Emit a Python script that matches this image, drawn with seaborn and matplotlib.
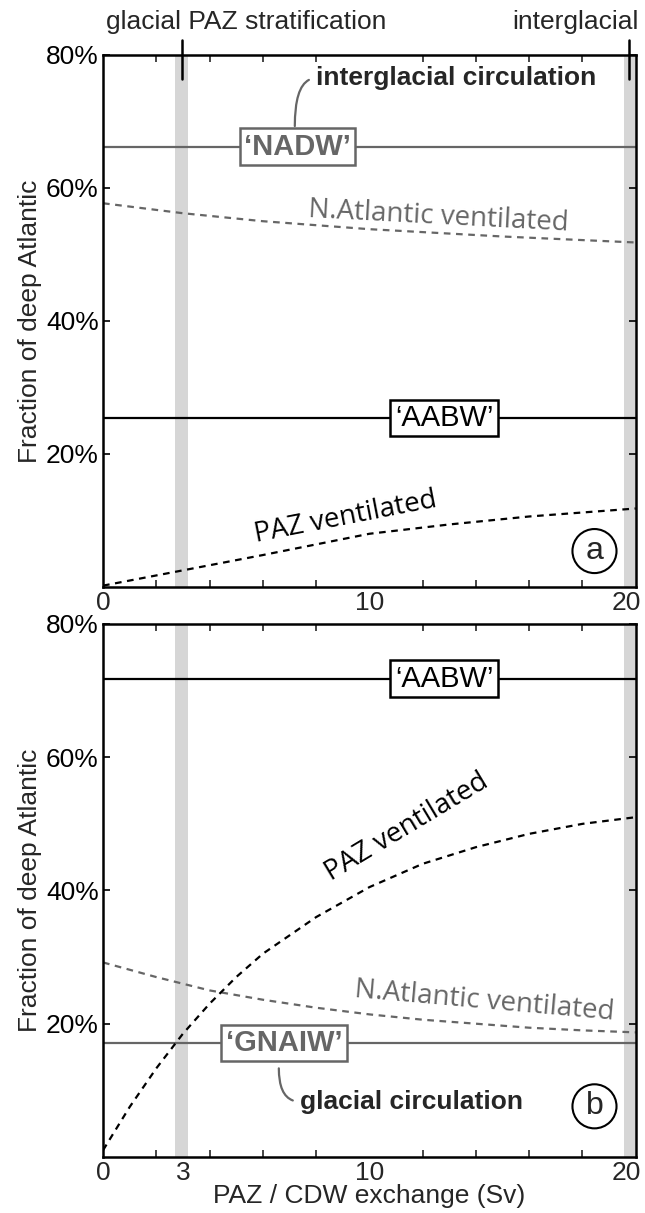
import numpy as np
import pandas as pd
import matplotlib
matplotlib.use("Agg")
import matplotlib.pyplot as plt
import matplotlib.transforms as mtrans
import seaborn as sns
from matplotlib.ticker import FixedLocator, MultipleLocator

# ── Data (% of deep Atlantic vs PAZ/CDW exchange in Sv)
# panel a: interglacial circulation
a_paz_x   = [0, 3, 6, 10, 13, 16, 20]
a_paz_y   = [0.2, 2.5, 4.8, 8.0, 9.4, 10.6, 11.8]
a_na_x    = [0, 3, 6, 10, 15, 20]
a_na_y    = [57.7, 56.2, 55.0, 53.8, 52.7, 51.8]
a_nadw    = 66.2
a_aabw    = 25.4

# panel b: glacial circulation
b_paz_x   = [0, 1, 2, 3, 4, 5, 6, 8, 10, 12, 14, 16, 18, 20]
b_paz_y   = [1.0, 7.5, 13.3, 18.5, 23.0, 27.0, 30.5, 36.0, 40.5, 44.0, 46.5, 48.5, 50.0, 51.0]
b_na_x    = [0, 2, 4, 6, 8, 10, 12, 14, 16, 18, 20]
b_na_y    = [29.2, 27.0, 25.0, 23.6, 22.4, 21.4, 20.6, 20.0, 19.4, 19.0, 18.7]
b_gnaiw   = 17.1
b_aabw    = 71.8

# PAZ exchange regimes: glacial stratification band, interglacial band
glacial_band      = (2.7, 3.2)
interglacial_band = (19.55, 20.5)
regime_marks      = [2.95, 19.75]

GRAY  = "#666666"
BAND  = "#d6d6d6"
LW    = 1.6
SANS  = ["Liberation Sans", "DejaVu Sans"]
HUMAN = ["Open Sans", "DejaVu Sans"]

sns.set_theme(style="ticks")
plt.rcParams["font.family"] = SANS
plt.rcParams["axes.linewidth"] = 1.8

fig = plt.figure(figsize=(6.45, 12.13), dpi=100)
ax_a = fig.add_axes([0.1597, 0.5161, 0.826, 0.4386])
ax_b = fig.add_axes([0.1597, 0.0462, 0.826, 0.4394])

for ax in (ax_a, ax_b):
    ax.axvspan(*glacial_band, color=BAND, lw=0, zorder=0)
    ax.axvspan(*interglacial_band, color=BAND, lw=0, zorder=0)
    ax.set_xlim(0, 20)
    ax.set_ylim(0, 80)
    ax.yaxis.set_major_locator(FixedLocator([20, 40, 60, 80]))
    ax.set_yticklabels(["20%", "40%", "60%", "80%"])
    ax.xaxis.set_minor_locator(MultipleLocator(2))
    ax.tick_params(axis="y", which="major", direction="in", length=5, width=1.2,
                   left=True, right=True, labelsize=19, pad=3, colors="black")
    ax.tick_params(axis="x", which="minor", direction="in", length=5, width=1.2,
                   top=True, bottom=True)
    ax.tick_params(axis="x", which="major", length=0, labelsize=19, pad=3)
    ax.set_ylabel("Fraction of deep Atlantic", fontsize=19, labelpad=3)
    for s in ax.spines.values():
        s.set_color("black")
        s.set_linewidth(1.8)
        s.set_zorder(5)

ax_a.xaxis.set_major_locator(FixedLocator([0, 10, 20]))
ax_b.xaxis.set_major_locator(FixedLocator([0, 3, 10, 20]))
ax_b.set_xlabel("PAZ / CDW exchange (Sv)", fontsize=19, labelpad=-1)

# keep the "20" label inside the figure, as in the original
shift = mtrans.ScaledTranslation(4 / 72, 0, fig.dpi_scale_trans)
for ax in (ax_a, ax_b):
    fig.canvas.draw()
    lab = ax.get_xticklabels()[-1]
    lab.set_horizontalalignment("right")
    lab.set_transform(lab.get_transform() + shift)

# ── panel a
ax_a.axhline(a_nadw, color=GRAY, lw=LW, zorder=2)
ax_a.axhline(a_aabw, color="black", lw=LW, zorder=2)
sns.lineplot(x=a_na_x, y=a_na_y, ax=ax_a, color=GRAY, lw=LW,
             linestyle=(0, (3, 2.5)), zorder=3)
sns.lineplot(x=a_paz_x, y=a_paz_y, ax=ax_a, color="black", lw=LW,
             linestyle=(0, (3, 2.5)), zorder=3)

box_kw = dict(boxstyle="square,pad=0.15", fc="white", lw=1.8)
ax_a.text(7.3, a_nadw, "\u2018NADW\u2019", ha="center", va="center", fontsize=21,
          fontweight="bold", color=GRAY, bbox=dict(ec=GRAY, **box_kw), zorder=4)
ax_a.text(12.8, a_aabw, "\u2018AABW\u2019", ha="center", va="center", fontsize=21,
          color="black", bbox=dict(ec="black", **box_kw), zorder=4)
ax_a.annotate("interglacial circulation", xy=(7.2, 69.3), xytext=(8.0, 76.5),
              ha="left", va="center", fontsize=19, fontweight="bold",
              arrowprops=dict(arrowstyle="-", color=GRAY, lw=1.6, relpos=(0, 0.5),
                              shrinkA=3, shrinkB=0,
                              connectionstyle="angle3,angleA=180,angleB=90"))
ax_a.text(12.6, 55.6, "N.Atlantic ventilated", ha="center", va="center",
          fontsize=20, color=GRAY, rotation=-3, family=HUMAN)
ax_a.text(9.1, 10.4, "PAZ ventilated", ha="center", va="center",
          fontsize=20, color="black", rotation=11, family=HUMAN)
ax_a.text(18.45, 5.4, "a", ha="center", va="center", fontsize=23,
          bbox=dict(boxstyle="circle,pad=0.22", fc="white", ec="black", lw=1.5))

# regime marks above panel a
for xm in regime_marks:
    ax_a.plot([xm, xm], [76.4, 82.2], color="black", lw=1.8, clip_on=False, zorder=6)
ax_a.text(0.1, 85.0, "glacial PAZ stratification", ha="left", va="center",
          fontsize=19, clip_on=False)
ax_a.text(20.1, 85.0, "interglacial", ha="right", va="center",
          fontsize=19, clip_on=False)

# ── panel b
ax_b.axhline(b_aabw, color="black", lw=LW, zorder=2)
ax_b.axhline(b_gnaiw, color=GRAY, lw=LW, zorder=2)
sns.lineplot(x=b_na_x, y=b_na_y, ax=ax_b, color=GRAY, lw=LW,
             linestyle=(0, (3, 2.5)), zorder=3)
sns.lineplot(x=b_paz_x, y=b_paz_y, ax=ax_b, color="black", lw=LW,
             linestyle=(0, (3, 2.5)), zorder=3)

ax_b.text(12.8, b_aabw, "\u2018AABW\u2019", ha="center", va="center", fontsize=21,
          color="black", bbox=dict(ec="black", **box_kw), zorder=4)
ax_b.text(6.8, b_gnaiw, "\u2018GNAIW\u2019", ha="center", va="center", fontsize=21,
          fontweight="bold", color=GRAY, bbox=dict(ec=GRAY, **box_kw), zorder=4)
ax_b.annotate("glacial circulation", xy=(6.6, 13.3), xytext=(7.4, 8.3),
              ha="left", va="center", fontsize=19, fontweight="bold",
              arrowprops=dict(arrowstyle="-", color=GRAY, lw=1.6, relpos=(0, 0.5),
                              shrinkA=3, shrinkB=0,
                              connectionstyle="angle3,angleA=180,angleB=90"))
ax_b.text(14.3, 23.4, "N.Atlantic ventilated", ha="center", va="center",
          fontsize=20, color=GRAY, rotation=-5, family=HUMAN)
ax_b.text(11.4, 49.5, "PAZ ventilated", ha="center", va="center",
          fontsize=20, color="black", rotation=31, family=HUMAN)
ax_b.text(18.45, 7.6, "b", ha="center", va="center", fontsize=23,
          bbox=dict(boxstyle="circle,pad=0.22", fc="white", ec="black", lw=1.5))

fig.savefig("out.png", dpi=100)
